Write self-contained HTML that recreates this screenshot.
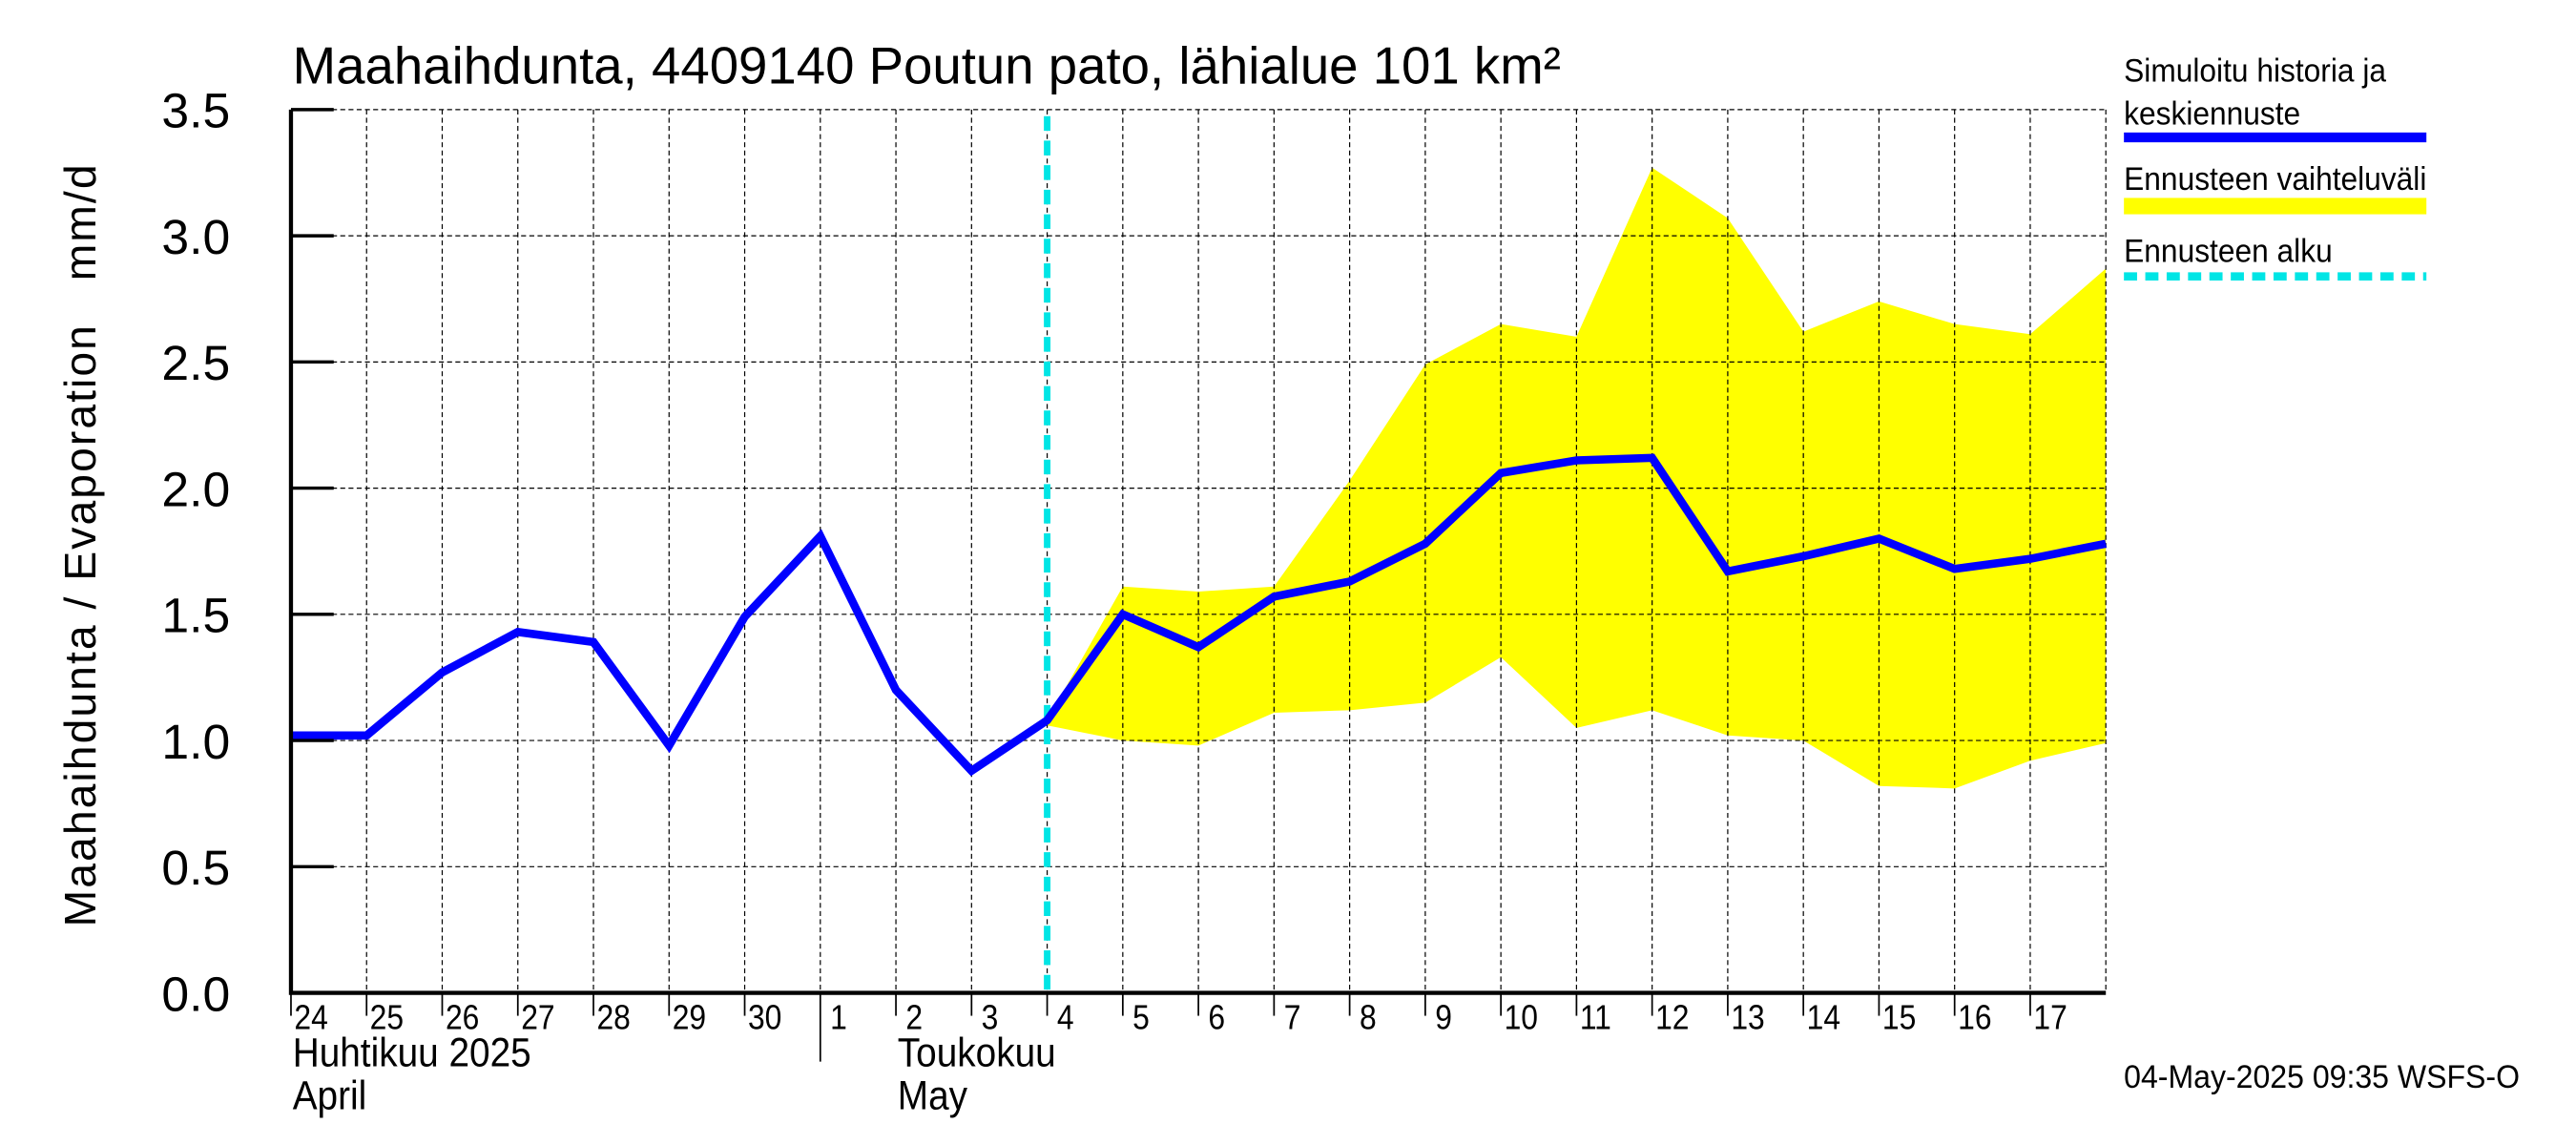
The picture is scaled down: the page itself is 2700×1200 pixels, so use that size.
<!DOCTYPE html>
<html><head><meta charset="utf-8"><style>
html,body{margin:0;padding:0;background:#fff;}
svg{display:block;font-family:"Liberation Sans",sans-serif;}
</style></head><body>
<svg id="chart" width="2700" height="1200" viewBox="0 0 1567 700" preserveAspectRatio="none" xmlns="http://www.w3.org/2000/svg">
<rect x="0" y="0" width="1567" height="700" fill="#fff"/>
<g id="band"></g>
<g id="grid"></g>
<g id="series"></g>
<g id="axes"></g>
<text x="178" y="51" font-size="32" transform="translate(178,0) scale(0.99,1) translate(-178,0)">Maahaihdunta, 4409140 Poutun pato, lähialue 101 km²</text>
<text transform="translate(58,333) rotate(-90)" text-anchor="middle" font-size="27" letter-spacing="1.2" xml:space="preserve">Maahaihdunta / Evaporation   mm/d</text>
<g font-size="20">
<text x="1292" y="50" transform="translate(1292,0) scale(0.92,1) translate(-1292,0)">Simuloitu historia ja</text>
<text x="1292" y="76" transform="translate(1292,0) scale(0.92,1) translate(-1292,0)">keskiennuste</text>
<rect x="1292" y="81" width="184" height="6" fill="#0000ff"/>
<text x="1292" y="116" transform="translate(1292,0) scale(0.92,1) translate(-1292,0)">Ennusteen vaihteluväli</text>
<rect x="1292" y="121" width="184" height="10" fill="#ffff00"/>
<text x="1292" y="160" transform="translate(1292,0) scale(0.92,1) translate(-1292,0)">Ennusteen alku</text>
<line x1="1292" y1="169" x2="1476" y2="169" stroke="#00e5e5" stroke-width="5" stroke-dasharray="8,5"/>
</g>
<text x="1292" y="665" font-size="20" transform="translate(1292,0) scale(0.93,1) translate(-1292,0)">04-May-2025 09:35 WSFS-O</text>
</svg>
<script>
const days = ["24","25","26","27","28","29","30","1","2","3","4","5","6","7","8","9","10","11","12","13","14","15","16","17"];
const median = [1.02,1.02,1.27,1.43,1.39,0.98,1.49,1.81,1.20,0.88,1.08,1.50,1.37,1.57,1.63,1.78,2.06,2.11,2.12,1.67,1.73,1.80,1.68,1.72,1.78];
const bandStart = 10;
const upper = [1.08,1.61,1.59,1.61,2.03,2.49,2.65,2.60,3.27,3.07,2.62,2.74,2.65,2.61,2.87];
const lower = [1.06,1.00,0.98,1.11,1.12,1.15,1.33,1.05,1.12,1.02,1.00,0.82,0.81,0.92,0.99];
const yTicks = ["0.0","0.5","1.0","1.5","2.0","2.5","3.0","3.5"];
const forecastStart = 10;

const NS="http://www.w3.org/2000/svg";
const X0=177,X1=1281,Y0=607,Y1=67,nDays=24;
const xs=i=>X0+(X1-X0)*i/nDays;
const ys=v=>Y0-(Y0-Y1)*v/3.5;
function mk(tag,attrs,parent){const e=document.createElementNS(NS,tag);for(const k in attrs)e.setAttribute(k,attrs[k]);parent.appendChild(e);return e;}
const grid=document.getElementById('grid'),axes=document.getElementById('axes'),series=document.getElementById('series'),band=document.getElementById('band');

let pts=[];
upper.forEach((v,i)=>pts.push(xs(bandStart+i)+","+ys(v)));
for(let i=lower.length-1;i>=0;i--)pts.push(xs(bandStart+i)+","+ys(lower[i]));
const poly=mk('polygon',{points:pts.join(' '),fill:'#ffff00'},band);



yTicks.forEach((t,i)=>{
  const v=parseFloat(t),y=ys(v);
  if(i>0){const g=mk('line',{x1:X0,x2:X1,y1:y,y2:y,stroke:'#000','stroke-width':0.7,'stroke-dasharray':'3,2'},grid);
  }
  const tk=mk('line',{x1:X0,x2:X0+26,y1:y,y2:y,stroke:'#000','stroke-width':2},axes);
  
  const tx=mk('text',{x:140,y:y+11,'text-anchor':'end','font-size':30},axes);
  
  tx.textContent=t;
});
for(let i=1;i<=nDays;i++){
  const x=xs(i);
  const g=mk('line',{x1:x,x2:x,y1:Y1,y2:Y0,stroke:'#000','stroke-width':0.7,'stroke-dasharray':'3,2'},grid);
  
}
days.forEach((d,i)=>{
  const x=xs(i);
  const tk=mk('line',{x1:x,x2:x,y1:Y0,y2:Y0+(i===7?42:14),stroke:'#000','stroke-width':1},axes);
  
  const tx=mk('text',{x:0,y:0,'font-size':21,transform:`translate(${x+(d.length===1?6:2)},${Y0+22}) scale(0.88,1)`},axes);
  
  tx.textContent=d;
});
[["Huhtikuu  2025",178,652],["April",178,678],["Toukokuu",546,652],["May",546,678]].forEach(m=>{
  const tx=mk('text',{x:0,y:0,'font-size':25,transform:`translate(${m[1]},${m[2]}) scale(0.9,1)`},axes);
  tx.setAttribute('xml:space','preserve');
  
  tx.textContent=m[0];
});
const ax=mk('path',{d:`M${X0},${Y1} V${Y0} H${X1}`,fill:'none',stroke:'#000','stroke-width':2.5},axes);


const fs=mk('line',{x1:xs(forecastStart),x2:xs(forecastStart),y1:Y1+4,y2:Y0,stroke:'#00e5e5','stroke-width':4,'stroke-dasharray':'9,6'},series);


const ln=mk('polyline',{points:median.map((v,i)=>xs(i)+","+ys(v)).join(' '),fill:'none',stroke:'#0000ff','stroke-width':5,'stroke-linejoin':'miter'},series);

</script>
</body></html>
